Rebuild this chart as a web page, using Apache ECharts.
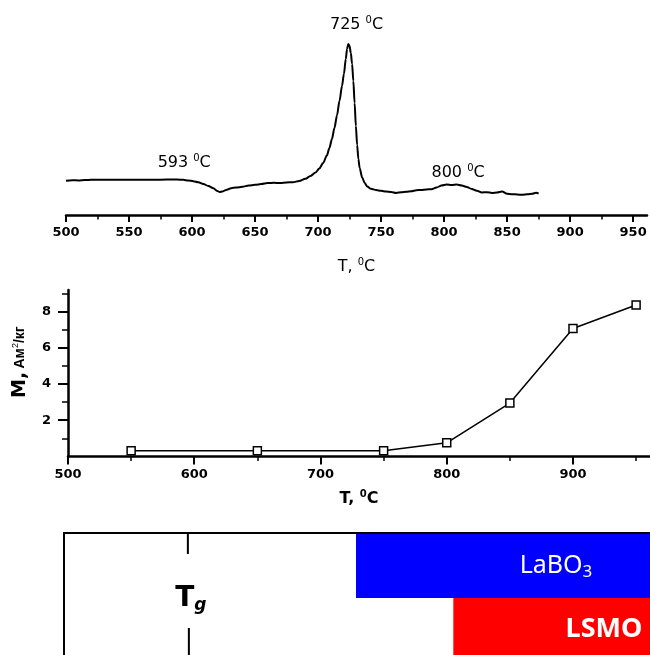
<!DOCTYPE html>
<html><head><meta charset="utf-8">
<script src="https://cdn.jsdelivr.net/npm/echarts@6/dist/echarts.min.js"></script>
<style>html,body{margin:0;padding:0;background:#fff}#c{width:650px;height:655px}</style>
</head><body><div id="c"></div>
<script>
// ---- DTA curve (top panel) ----
const dtaT = [500,505,510,515,520,530,540,550,560,570,580,588,593,597,601,605,609,613,617,620,622,624,627,631,635,640,645,650,655,660,665,670,675,680,685,690,694,698,701,704,707,709,711,713,715,717,719,720.5,722,723,724,725,726,727,728,729,730,731,732,733,735,737,739,742,746,750,754,758,762,766,770,774,778,782,786,790,794,798,802,806,810,814,818,822,826,830,834,838,842,846,850,854,858,862,866,870,873,875];
const dtaSignal = [3.42,3.48,3.45,3.5,3.52,3.52,3.53,3.53,3.53,3.53,3.54,3.55,3.52,3.45,3.38,3.28,3.1,2.9,2.68,2.4,2.3,2.35,2.5,2.68,2.75,2.82,2.95,3.02,3.1,3.2,3.22,3.2,3.25,3.28,3.4,3.62,3.9,4.25,4.65,5.2,5.95,6.7,7.6,8.7,9.95,11.4,12.9,14.1,15.6,16.6,17.1,16.9,16.2,15.1,13.4,11.2,8.9,7.0,5.6,4.7,3.75,3.2,2.85,2.62,2.5,2.42,2.35,2.3,2.2,2.28,2.32,2.38,2.48,2.5,2.55,2.58,2.75,2.95,3.05,3.0,3.05,2.95,2.8,2.6,2.42,2.25,2.28,2.2,2.25,2.35,2.12,2.08,2.05,2.02,2.08,2.12,2.22,2.15];
const peakTemps = [593, 725, 800];
const dtaMajorTicks = [500,550,600,650,700,750,800,850,900,950];
const dtaMinorTicks = [525,575,625,675,725,775,825,875,925];

// ---- Magnetization (middle panel) ----
const magT = [550,650,750,800,850,900,950];
const magM = [0.31,0.31,0.31,0.75,2.95,7.07,8.37];
const magMajorTicks = [500,600,700,800,900];
const magMinorTicks = [550,650,750,850,950];
const magYMajorTicks = [2,4,6,8];
const magYMinorTicks = [1,3,5,7,9];

// ---- Phase diagram (bottom panel) ----
const phaseNames = ['LaBO3','LSMO'];
const phaseStart = [731, 808];
const tgTemp = [598];

// ---- layout / style (not data) ----
const X_MAX_TOP = 961, X_MAX_MID = 961, X_MAX_BOT = 963.6;
const peakLabelOffsets = [[1,-17],[7,-21],[14,-13]];
const phaseStyles = [
  {color:'#0000ff', rightInset:94, dy:0,
   rich:{n:{fontFamily:'Noto Sans',fontSize:25,fill:'#fff',color:'#fff'},sub:{fontFamily:'Noto Sans',fontSize:17,fill:'#fff',color:'#fff',padding:[14,0,0,0]}},
   text:'{n|LaBO}{sub|3}'},
  {color:'#ff0000', rightInset:46, dy:-1,
   rich:{n:{fontFamily:'Noto Sans',fontWeight:'bold',fontSize:27,fill:'#fff',color:'#fff'}},
   text:'{n|LSMO}'}
];

const chart = echarts.init(document.getElementById('c'), null, {renderer:'canvas'});
const tickFont = {fontFamily:'DejaVu Sans', fontWeight:'bold', fontSize:13, color:'#000'};
const supRich = (size, bold) => ({
  n:{fontFamily:'DejaVu Sans', fontSize:size, fontWeight: bold?'bold':'normal', color:'#000'},
  s:{fontFamily:'DejaVu Sans', fontSize:Math.round(size*0.62), fontWeight: bold?'bold':'normal', color:'#000', padding:[0,0,Math.round(size*0.55),0]}
});

function nearestSignal(t){
  let bi = 0;
  dtaT.forEach((v,i)=>{ if (Math.abs(v-t) < Math.abs(dtaT[bi]-t)) bi = i; });
  return dtaSignal[bi];
}

const option = {
  animation:false,
  backgroundColor:'#fff',
  grid:[
    {left:66, right:3, top:15, bottom:440},
    {left:68, right:0, top:290, bottom:198.6},
    {left:64, right:0, top:533, height:130, outerBoundsMode:'none', containLabel:false}
  ],
  xAxis:[
    {gridIndex:0, type:'value', position:'bottom', min:500, max:X_MAX_TOP,
     axisLine:{show:true, lineStyle:{color:'#000', width:2.5}},
     axisTick:{show:true, length:7, lineStyle:{color:'#000', width:2}, customValues:dtaMajorTicks},
     axisLabel:Object.assign({margin:11, customValues:dtaMajorTicks}, tickFont),
     splitLine:{show:false},
     name:'{n|T, }{s|0}{n|C}', nameLocation:'middle', nameGap:42,
     nameTextStyle:{rich:supRich(16,false)}},
    {gridIndex:0, type:'value', position:'bottom', min:500, max:X_MAX_TOP,
     axisLine:{show:false}, axisLabel:{show:false}, splitLine:{show:false},
     axisTick:{show:true, length:4.5, lineStyle:{color:'#000', width:1.5}, customValues:dtaMinorTicks}},
    {gridIndex:1, type:'value', position:'bottom', min:500, max:X_MAX_MID,
     axisLine:{show:true, lineStyle:{color:'#000', width:2.5}},
     axisTick:{show:true, length:8, lineStyle:{color:'#000', width:2}, customValues:magMajorTicks},
     axisLabel:Object.assign({margin:12, customValues:magMajorTicks}, tickFont),
     splitLine:{show:false},
     name:'{n|T, }{s|0}{n|C}', nameLocation:'middle', nameGap:33,
     nameTextStyle:{rich:supRich(16,true)}},
    {gridIndex:1, type:'value', position:'bottom', min:500, max:X_MAX_MID,
     axisLine:{show:false}, axisLabel:{show:false}, splitLine:{show:false},
     axisTick:{show:true, length:4.5, lineStyle:{color:'#000', width:1.5}, customValues:magMinorTicks}},
    {gridIndex:2, type:'value', position:'top', min:500, max:X_MAX_BOT, z:10,
     axisLine:{show:true, onZero:false, lineStyle:{color:'#000', width:2}},
     axisTick:{show:false}, axisLabel:{show:false}, splitLine:{show:false}}
  ],
  yAxis:[
    {gridIndex:0, type:'value', min:0, max:20, show:false},
    {gridIndex:1, type:'value', position:'left', min:0, max:9.2,
     axisLine:{show:true, lineStyle:{color:'#000', width:2.5}},
     axisTick:{show:true, length:10, lineStyle:{color:'#000', width:2}, customValues:magYMajorTicks},
     axisLabel:Object.assign({margin:17, customValues:magYMajorTicks}, tickFont),
     splitLine:{show:false},
     name:'{sp| }{b|M,} {s|Ам}{sup|2}{s|/кг}', nameLocation:'middle', nameGap:38,
     nameTextStyle:{rich:{
       sp:{width:22, fontSize:10},
       b:{fontFamily:'DejaVu Sans', fontWeight:'bold', fontSize:19, color:'#000'},
       s:{fontFamily:'Liberation Sans Narrow, Liberation Sans', fontWeight:'bold', fontSize:14, color:'#000'},
       sup:{fontFamily:'Liberation Sans', fontSize:9, color:'#000', padding:[0,0,9,0]}
     }}},
    {gridIndex:1, type:'value', position:'left', min:0, max:9.2,
     axisLine:{show:false}, axisLabel:{show:false}, splitLine:{show:false},
     axisTick:{show:true, length:6, lineStyle:{color:'#000', width:1.5}, customValues:magYMinorTicks}},
    {gridIndex:2, type:'category', position:'left', inverse:true, data:phaseNames, z:10,
     axisLine:{show:true, onZero:false, lineStyle:{color:'#000', width:2}},
     axisTick:{show:false}, axisLabel:{show:false}, splitLine:{show:false}}
  ],
  series:[
    {type:'line', xAxisIndex:0, yAxisIndex:0,
     data:dtaT.map((t,i)=>[t, dtaSignal[i]]),
     showSymbol:false, symbol:'none', smooth:0.3, smoothMonotone:'x',
     lineStyle:{color:'#000', width:2}, z:3,
     markPoint:{
       symbol:'circle', symbolSize:1, itemStyle:{color:'rgba(0,0,0,0)'},
       label:{show:true, position:'inside', formatter:p=>'{n|'+p.name+' }{s|0}{n|C}', rich:supRich(16,false)},
       data:peakTemps.map((t,i)=>({name:String(t), coord:[t, nearestSignal(t)], label:{offset:peakLabelOffsets[i]}}))
     }},
    {type:'line', xAxisIndex:2, yAxisIndex:1,
     data:magT.map((t,i)=>[t, magM[i]]),
     symbol:'rect', symbolSize:8, showSymbol:true,
     itemStyle:{color:'#fff', borderColor:'#000', borderWidth:1.5},
     lineStyle:{color:'#000', width:1.5}, z:3},
    {type:'custom', xAxisIndex:4, yAxisIndex:3,
     data:phaseNames.map((n,i)=>[phaseStart[i], X_MAX_BOT, i]),
     encode:{x:[0,1], y:2},
     renderItem:(params, api)=>{
       const st = phaseStyles[params.dataIndex];
       const a = api.coord([api.value(0), api.value(2)]);
       const b = api.coord([api.value(1), api.value(2)]);
       const h = api.size([0,1])[1];
       return {type:'group', children:[
         {type:'rect', shape:{x:a[0], y:a[1]-h/2, width:b[0]-a[0], height:h}, style:{fill:st.color}},
         {type:'text', x:b[0]-st.rightInset, y:a[1]+st.dy,
          style:{text:st.text, rich:st.rich, fill:'#fff', align:'center', verticalAlign:'middle'}}
       ]};
     }},
    {type:'custom', xAxisIndex:4, yAxisIndex:3,
     data:tgTemp.map(t=>[t, 0]),
     encode:{x:0, y:1},
     renderItem:(params, api)=>{
       const cs = params.coordSys;
       const x = api.coord([api.value(0), 0])[0];
       return {type:'group', children:[
         {type:'line', shape:{x1:x, y1:cs.y, x2:x, y2:cs.y+21}, style:{stroke:'#000', lineWidth:2}},
         {type:'line', shape:{x1:x+1, y1:cs.y+95, x2:x+1, y2:cs.y+cs.height}, style:{stroke:'#000', lineWidth:2}},
         {type:'text', x:x+3, y:cs.y+66,
          style:{text:'{t|T}{g|g}', align:'center', verticalAlign:'middle',
            rich:{t:{fontFamily:'DejaVu Sans', fontWeight:'bold', fontSize:28, color:'#000'},
                  g:{fontFamily:'DejaVu Sans', fontWeight:'bold', fontStyle:'italic', fontSize:17, color:'#000', padding:[14,0,0,0]}}}}
       ]};
     }}
  ]
};
chart.setOption(option);
</script></body></html>
